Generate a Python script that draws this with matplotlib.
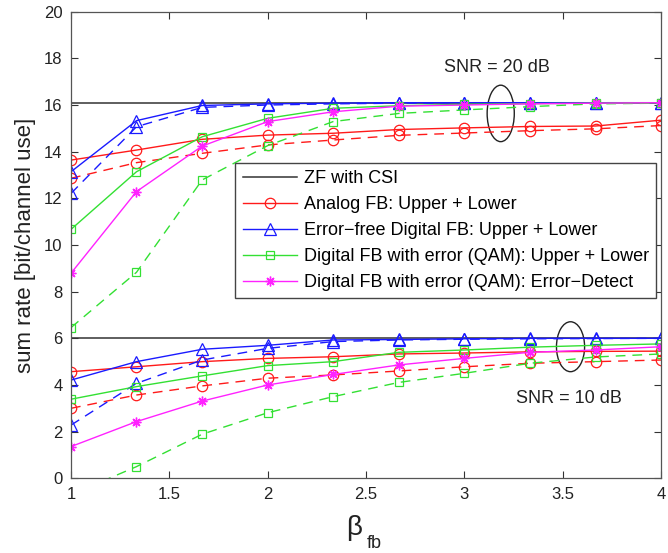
import numpy as np
import matplotlib
matplotlib.use("Agg")
import matplotlib.pyplot as plt
from matplotlib.patches import Ellipse

plt.rcParams['font.family'] = ['Liberation Sans', 'DejaVu Sans']

beta_fb = [1.0, 1.333, 1.667, 2.0, 2.333, 2.667, 3.0, 3.333, 3.667, 4.0]

# SNR = 20 dB
zf_20 = [16.1] * 10
analog_upper_20 = [13.64, 14.07, 14.53, 14.71, 14.79, 14.95, 15.02, 15.08, 15.1, 15.35]
analog_lower_20 = [12.86, 13.53, 13.93, 14.29, 14.5, 14.7, 14.8, 14.9, 14.98, 15.12]
digital_upper_20 = [13.14, 15.33, 15.98, 16.05, 16.08, 16.1, 16.1, 16.1, 16.1, 16.1]
digital_lower_20 = [12.21, 15.07, 15.9, 16.0, 16.05, 16.08, 16.1, 16.1, 16.1, 16.1]
qam_upper_20 = [10.67, 13.14, 14.64, 15.43, 15.86, 15.97, 16.03, 16.06, 16.08, 16.1]
qam_lower_20 = [6.46, 8.83, 12.79, 14.26, 15.29, 15.64, 15.79, 15.93, 16.05, 16.08]
detect_20 = [8.79, 12.29, 14.24, 15.29, 15.71, 15.95, 16.0, 16.05, 16.08, 16.1]

# SNR = 10 dB
zf_10 = [6.0] * 10
analog_upper_10 = [4.57, 4.78, 5.0, 5.14, 5.21, 5.33, 5.37, 5.42, 5.44, 5.45]
analog_lower_10 = [3.0, 3.57, 3.96, 4.29, 4.43, 4.6, 4.78, 4.93, 5.0, 5.07]
digital_upper_10 = [4.21, 5.0, 5.53, 5.7, 5.93, 5.95, 5.98, 6.0, 6.0, 6.0]
digital_lower_10 = [2.28, 4.07, 5.07, 5.57, 5.86, 5.93, 5.96, 5.98, 5.99, 6.0]
qam_upper_10 = [3.39, 3.93, 4.39, 4.83, 5.0, 5.4, 5.5, 5.62, 5.7, 5.76]
qam_lower_10 = [-0.7, 0.5, 1.89, 2.81, 3.5, 4.11, 4.5, 4.93, 5.2, 5.33]
detect_10 = [1.36, 2.43, 3.31, 4.0, 4.45, 4.86, 5.14, 5.4, 5.5, 5.64]

labels = ["ZF with CSI",
          "Analog FB: Upper + Lower",
          "Error\u2212free Digital FB: Upper + Lower",
          "Digital FB with error (QAM): Upper + Lower",
          "Digital FB with error (QAM): Error\u2212Detect"]

fig = plt.figure(figsize=(6.68, 5.53), dpi=100)
ax = fig.add_axes([71 / 668, 74.7 / 553, 590 / 668, 466.6 / 553])

red, blue, green, mag = '#ff1a1a', '#1a1aff', '#33e033', '#ff22ff'
dash = (7, 5)
lw = 1.0
star = (8, 2, 0)  # asterisk like matlab's '*'

handles = []
for zf, au, al, du, dl, qu, ql, de in [
        (zf_20, analog_upper_20, analog_lower_20, digital_upper_20, digital_lower_20,
         qam_upper_20, qam_lower_20, detect_20),
        (zf_10, analog_upper_10, analog_lower_10, digital_upper_10, digital_lower_10,
         qam_upper_10, qam_lower_10, detect_10)]:
    h0, = ax.plot(beta_fb, zf, color='#333333', lw=1.1)
    h1, = ax.plot(beta_fb, au, color=red, lw=lw, marker='o', ms=7.5, mfc='none', mew=0.9)
    ax.plot(beta_fb, al, color=red, lw=lw, ls='--', dashes=dash, marker='o', ms=7.5, mfc='none', mew=0.9)
    h2, = ax.plot(beta_fb, du, color=blue, lw=lw, marker='^', ms=8, mfc='none', mew=0.9)
    ax.plot(beta_fb, dl, color=blue, lw=lw, ls='--', dashes=dash, marker='^', ms=8, mfc='none', mew=0.9)
    h3, = ax.plot(beta_fb, qu, color=green, lw=lw, marker='s', ms=5.5, mfc='none', mew=0.9)
    ax.plot(beta_fb, ql, color=green, lw=lw, ls='--', dashes=dash, marker='s', ms=5.5, mfc='none', mew=0.9)
    h4, = ax.plot(beta_fb, de, color=mag, lw=lw, marker=star, ms=7, mew=1.0)
    handles = [h0, h1, h2, h3, h4]

ax.add_patch(Ellipse((3.185, 15.64), 0.138, 2.42, fill=False, ec='#222222', lw=1))
ax.add_patch(Ellipse((3.54, 5.64), 0.143, 2.14, fill=False, ec='#222222', lw=1))
ax.text(3.167, 17.6, "SNR = 20 dB", fontsize=13, ha='center', va='center', color='#222222')
ax.text(3.53, 3.4, "SNR = 10 dB", fontsize=13, ha='center', va='center', color='#222222')

ax.set_xlim(1, 4)
ax.set_ylim(0, 20)
ax.set_xticks([1, 1.5, 2, 2.5, 3, 3.5, 4])
ax.set_xticklabels(['1', '1.5', '2', '2.5', '3', '3.5', '4'])
ax.set_yticks(np.arange(0, 21, 2))
ax.tick_params(direction='in', top=True, right=True, length=5, width=0.8,
               labelsize=12, colors='#333333', labelcolor='#222222', pad=6)
for s in ax.spines.values():
    s.set_color('#555555')
    s.set_linewidth(0.9)

leg = ax.legend(handles, labels, loc='upper right', bbox_to_anchor=(0.992, 0.676),
                borderaxespad=0, fontsize=13, handlelength=3.0, labelspacing=0.5,
                fancybox=False, framealpha=1, edgecolor='#444444', borderpad=0.4,
                handletextpad=0.4)
leg.get_frame().set_linewidth(1.0)

ax.set_ylabel("sum rate [bit/channel use]", fontsize=16, labelpad=6, color='#222222')
fig.text(354 / 668, 1 - 528 / 553, "\u03b2", fontsize=20, ha='center', va='center', color='#222222')
fig.text(374 / 668, 1 - 544 / 553, "fb", fontsize=13, ha='center', va='center', color='#222222')

fig.savefig("out.png", dpi=100)
